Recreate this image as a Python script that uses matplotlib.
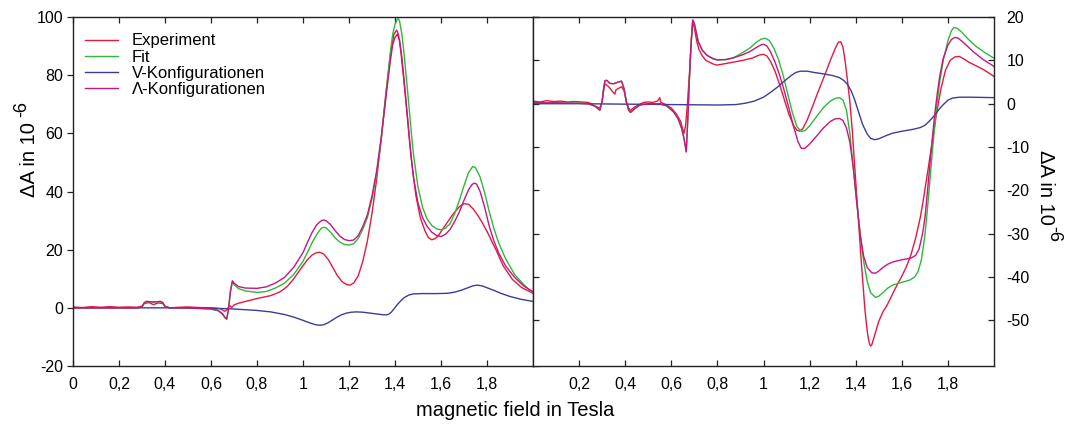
import matplotlib
matplotlib.use("Agg")
import matplotlib.pyplot as plt
from matplotlib.ticker import FixedLocator, FixedFormatter
from matplotlib.lines import Line2D

plt.rcParams['font.family'] = ['Liberation Sans', 'DejaVu Sans']
plt.rcParams['axes.unicode_minus'] = False

# ---------------- data: (magnetic field [T], dA [1e-6]) ----------------
# left panel
exp_left = [(0.0, 0.3), (0.04, 0.1), (0.08, 0.4), (0.12, 0.2), (0.16, 0.4), (0.2, 0.2), (0.24, 0.3),
            (0.28, 0.2), (0.30, 0.6), (0.31, 1.5), (0.33, 1.8), (0.35, 1.1), (0.37, 1.7), (0.39, 1.5),
            (0.40, 0.5), (0.42, 0.0), (0.46, 0.2), (0.5, 0.3), (0.55, 0.1), (0.6, 0.0), (0.64, -0.3),
            (0.66, -1.2), (0.67, -0.6), (0.68, 0.9), (0.69, 0.1), (0.70, 1.0), (0.72, 1.6), (0.75, 2.2),
            (0.80, 3.2), (0.86, 4.2), (0.90, 5.5), (0.93, 7.2), (0.96, 10.0), (0.98, 12.3),
            (1.00, 14.5), (1.02, 16.6), (1.04, 18.2), (1.06, 19.0), (1.074, 19.1), (1.09, 18.5),
            (1.11, 16.6), (1.13, 13.8), (1.15, 11.0), (1.17, 9.0), (1.19, 8.0), (1.204, 7.8),
            (1.22, 8.5), (1.24, 11.0), (1.26, 16.0), (1.28, 23.0), (1.30, 32.5), (1.32, 44.0),
            (1.34, 58.0), (1.36, 73.5), (1.38, 87.0), (1.395, 94.0), (1.407, 95.5), (1.415, 94.0),
            (1.425, 88.5), (1.44, 77.0), (1.455, 65.0), (1.47, 52.0), (1.49, 39.0), (1.51, 31.0),
            (1.53, 26.5), (1.545, 24.2), (1.56, 23.4), (1.575, 23.8), (1.59, 25.0), (1.62, 28.5),
            (1.65, 32.0), (1.68, 34.8), (1.70, 35.8), (1.72, 35.6), (1.74, 34.0), (1.76, 31.8),
            (1.78, 29.2), (1.80, 26.3), (1.82, 23.0), (1.84, 19.8), (1.87, 14.5), (1.91, 9.8),
            (1.95, 7.0), (2.0, 5.0)]

fit_left = [(0.0, 0.0), (0.1, 0.0), (0.2, 0.0), (0.28, 0.0), (0.30, 0.3), (0.31, 1.8), (0.32, 2.2),
            (0.35, 2.0), (0.38, 2.2), (0.39, 1.8), (0.40, 0.5), (0.42, 0.0), (0.5, -0.1), (0.6, -0.5),
            (0.63, -1.0), (0.65, -2.2), (0.66, -3.4), (0.668, -4.0), (0.675, -1.2), (0.685, 5.7),
            (0.693, 9.0), (0.70, 8.0), (0.72, 6.6), (0.75, 5.8), (0.80, 5.3), (0.84, 5.6), (0.88, 6.8),
            (0.92, 8.5), (0.96, 11.5), (1.00, 16.0), (1.02, 19.2), (1.04, 22.5), (1.06, 25.3),
            (1.08, 27.4), (1.09, 27.7), (1.10, 27.5), (1.12, 26.0), (1.14, 24.0), (1.16, 22.6),
            (1.18, 21.8), (1.20, 21.6), (1.22, 22.0), (1.24, 23.8), (1.26, 27.0), (1.28, 31.0),
            (1.30, 37.5), (1.32, 46.0), (1.34, 58.0), (1.36, 73.0), (1.38, 88.0), (1.39, 94.0),
            (1.40, 97.5), (1.41, 99.2), (1.415, 99.4), (1.42, 98.5), (1.43, 94.0), (1.44, 87.0),
            (1.45, 78.5), (1.46, 70.0), (1.47, 61.0), (1.48, 53.0), (1.50, 41.5), (1.52, 34.5),
            (1.54, 30.5), (1.56, 28.3), (1.58, 27.2), (1.60, 26.8), (1.62, 27.4), (1.64, 29.0),
            (1.66, 32.5), (1.68, 37.0), (1.70, 42.0), (1.72, 46.5), (1.738, 48.6), (1.75, 48.2),
            (1.77, 45.0), (1.79, 39.5), (1.81, 33.0), (1.83, 27.3), (1.85, 22.5), (1.88, 17.0),
            (1.92, 11.5), (1.96, 8.0), (2.0, 5.0)]

v_left = [(0.0, 0.0), (0.2, 0.0), (0.4, 0.0), (0.5, 0.0), (0.6, -0.1), (0.7, -0.4), (0.8, -0.9),
          (0.86, -1.4), (0.92, -2.3), (0.96, -3.2), (1.0, -4.3), (1.03, -5.2), (1.055, -5.8),
          (1.074, -6.0), (1.09, -5.8), (1.11, -5.1), (1.13, -4.1), (1.15, -3.1), (1.17, -2.3),
          (1.19, -1.8), (1.21, -1.5), (1.233, -1.4), (1.26, -1.5), (1.29, -1.8), (1.32, -2.1),
          (1.35, -2.4), (1.365, -2.4), (1.375, -2.1), (1.385, -1.4), (1.395, -0.4), (1.41, 1.1),
          (1.425, 2.4), (1.44, 3.5), (1.46, 4.4), (1.48, 4.8), (1.52, 4.9), (1.58, 4.9), (1.63, 5.0),
          (1.66, 5.4), (1.69, 6.1), (1.72, 7.0), (1.74, 7.6), (1.76, 7.8), (1.78, 7.5), (1.80, 6.9),
          (1.83, 6.0), (1.86, 5.0), (1.9, 3.9), (1.95, 2.9), (2.0, 2.2)]

lam_left = [(0.0, 0.0), (0.1, 0.0), (0.2, 0.0), (0.28, 0.0), (0.30, 0.3), (0.31, 1.8), (0.32, 2.2),
            (0.35, 2.0), (0.38, 2.2), (0.39, 1.8), (0.40, 0.5), (0.42, 0.0), (0.5, 0.0), (0.6, -0.3),
            (0.63, -0.8), (0.65, -2.0), (0.66, -3.2), (0.668, -3.8), (0.675, -1.0), (0.685, 6.0),
            (0.693, 9.3), (0.70, 8.5), (0.72, 7.3), (0.75, 6.8), (0.80, 6.7), (0.84, 7.2), (0.88, 8.5),
            (0.92, 10.5), (0.96, 14.0), (1.00, 19.0), (1.02, 22.6), (1.04, 26.0), (1.06, 28.6),
            (1.08, 30.0), (1.09, 30.2), (1.10, 30.0), (1.12, 28.6), (1.14, 26.5), (1.16, 24.7),
            (1.18, 23.5), (1.20, 23.1), (1.22, 23.3), (1.24, 24.8), (1.26, 28.0), (1.28, 32.0),
            (1.30, 38.5), (1.32, 47.0), (1.34, 58.5), (1.36, 72.0), (1.38, 85.0), (1.39, 90.5),
            (1.40, 93.0), (1.41, 94.0), (1.42, 92.0), (1.43, 86.0), (1.44, 78.0), (1.45, 69.0),
            (1.46, 60.0), (1.47, 52.0), (1.48, 45.0), (1.50, 36.0), (1.52, 31.0), (1.54, 28.0),
            (1.56, 26.0), (1.58, 24.9), (1.60, 24.5), (1.62, 25.3), (1.64, 27.0), (1.66, 29.8),
            (1.68, 33.0), (1.70, 37.0), (1.72, 40.6), (1.735, 42.4), (1.745, 42.9), (1.755, 42.5),
            (1.77, 40.0), (1.79, 34.5), (1.81, 28.0), (1.83, 23.0), (1.85, 19.0), (1.88, 14.5),
            (1.92, 10.5), (1.96, 7.5), (2.0, 5.5)]

# right panel
exp_right = [(0.0, 0.6), (0.03, 0.4), (0.06, 0.7), (0.09, 0.5), (0.12, 0.6), (0.15, 0.4), (0.18, 0.5),
             (0.21, 0.4), (0.24, 0.3), (0.26, -0.3), (0.28, -0.8), (0.29, -1.0), (0.30, 0.5),
             (0.305, 2.5), (0.312, 4.6), (0.32, 4.3), (0.33, 3.8), (0.345, 2.8), (0.355, 2.2),
             (0.36, 3.2), (0.37, 3.5), (0.384, 3.9), (0.395, 3.0), (0.405, 0.5), (0.415, -1.0),
             (0.423, -1.5), (0.44, -0.8), (0.46, -0.2), (0.48, 0.3), (0.50, 0.4), (0.52, 0.3),
             (0.54, 0.6), (0.55, 1.4), (0.555, 0.3), (0.58, -0.3), (0.60, -1.0), (0.62, -2.2),
             (0.64, -4.0), (0.655, -6.9), (0.662, -5.0), (0.67, 0.0), (0.68, 8.0), (0.687, 15.0),
             (0.693, 19.0), (0.70, 17.5), (0.71, 14.5), (0.72, 12.5), (0.735, 11.0), (0.75, 10.0),
             (0.78, 9.2), (0.797, 8.9), (0.83, 9.2), (0.87, 9.6), (0.91, 10.0), (0.95, 10.5),
             (0.98, 11.2), (1.00, 11.4), (1.015, 11.0), (1.03, 9.8), (1.05, 7.5), (1.07, 4.4),
             (1.09, 1.0), (1.11, -2.4), (1.13, -5.0), (1.145, -6.1), (1.157, -6.3), (1.17, -5.8),
             (1.19, -3.7), (1.21, -1.0), (1.23, 1.8), (1.25, 4.5), (1.27, 7.2), (1.29, 10.0),
             (1.31, 12.6), (1.325, 14.2), (1.335, 14.3), (1.345, 13.0), (1.355, 9.5), (1.365, 5.0),
             (1.374, 0.8), (1.385, -6.0), (1.395, -14.0), (1.41, -25.4), (1.425, -37.0),
             (1.44, -47.5), (1.45, -52.5), (1.458, -55.0), (1.464, -55.9), (1.47, -55.6),
             (1.48, -53.8), (1.50, -50.2), (1.52, -47.8), (1.533, -46.8), (1.55, -45.0),
             (1.57, -42.8), (1.60, -39.8), (1.62, -37.6), (1.64, -34.8), (1.66, -31.0), (1.68, -26.3),
             (1.693, -22.3), (1.71, -16.5), (1.73, -9.5), (1.75, -2.5), (1.77, 3.5), (1.79, 7.8),
             (1.81, 10.0), (1.83, 10.8), (1.85, 10.9), (1.87, 10.3), (1.89, 9.6), (1.92, 8.8),
             (1.95, 8.0), (1.98, 7.0), (2.0, 6.3)]

fit_right = [(0.0, 0.2), (0.1, 0.2), (0.2, 0.1), (0.24, 0.0), (0.27, -0.6), (0.29, -1.5), (0.30, 0.5),
             (0.305, 3.0), (0.312, 5.3), (0.32, 5.4), (0.333, 4.7), (0.35, 4.6), (0.37, 5.0),
             (0.384, 5.2), (0.395, 3.5), (0.405, 0.4), (0.415, -1.5), (0.423, -2.0), (0.44, -1.2),
             (0.464, -0.3), (0.5, 0.0), (0.55, 0.0), (0.58, -0.5), (0.61, -1.9), (0.63, -3.5),
             (0.645, -5.7), (0.655, -8.0), (0.665, -11.1), (0.672, -3.0), (0.678, 5.0), (0.685, 13.0),
             (0.693, 19.3), (0.70, 18.5), (0.71, 16.0), (0.717, 14.3), (0.735, 12.3), (0.754, 11.2),
             (0.78, 10.4), (0.80, 10.1), (0.84, 10.2), (0.87, 10.6), (0.91, 11.8), (0.94, 12.8),
             (0.97, 14.2), (0.99, 14.9), (1.007, 15.1), (1.025, 14.6), (1.045, 12.8), (1.065, 10.2),
             (1.085, 6.6), (1.105, 2.3), (1.125, -2.0), (1.145, -5.3), (1.164, -6.4), (1.18, -6.2),
             (1.20, -5.1), (1.23, -3.0), (1.26, -0.9), (1.29, 0.6), (1.31, 1.2), (1.33, 1.4),
             (1.345, 0.8), (1.36, -1.5), (1.375, -7.0), (1.39, -15.0), (1.405, -23.0),
             (1.418, -29.2), (1.435, -36.5), (1.45, -41.0), (1.465, -43.6), (1.486, -44.7),
             (1.50, -44.4), (1.52, -43.5), (1.54, -42.5), (1.562, -41.8), (1.60, -41.2),
             (1.634, -40.7), (1.655, -40.0), (1.67, -38.8), (1.685, -36.0), (1.70, -30.5),
             (1.71, -25.0), (1.722, -17.7), (1.735, -9.5), (1.745, -4.0), (1.755, 1.0), (1.765, 5.2),
             (1.78, 10.0), (1.80, 14.5), (1.815, 16.8), (1.826, 17.6), (1.84, 17.4), (1.86, 16.5),
             (1.89, 14.8), (1.92, 13.3), (1.96, 11.8), (2.0, 10.5)]

v_right = [(0.0, 0.0), (0.2, 0.0), (0.4, -0.1), (0.6, -0.2), (0.8, -0.3), (0.88, -0.2), (0.92, 0.1),
           (0.96, 0.6), (1.0, 1.5), (1.03, 2.6), (1.06, 3.8), (1.09, 5.2), (1.12, 6.5), (1.14, 7.2),
           (1.16, 7.5), (1.19, 7.5), (1.22, 7.2), (1.258, 6.9), (1.30, 6.5), (1.33, 6.0), (1.35, 5.3),
           (1.365, 4.4), (1.38, 3.0), (1.395, 1.0), (1.41, -1.5), (1.43, -4.8), (1.45, -7.0),
           (1.465, -8.0), (1.483, -8.3), (1.50, -8.1), (1.53, -7.4), (1.56, -6.8), (1.606, -6.3),
           (1.65, -5.9), (1.68, -5.5), (1.70, -5.0), (1.72, -4.0), (1.74, -2.8), (1.76, -1.4),
           (1.78, -0.2), (1.80, 0.8), (1.82, 1.3), (1.85, 1.5), (1.9, 1.5), (2.0, 1.4)]

lam_right = [(0.0, 0.2), (0.1, 0.2), (0.2, 0.1), (0.24, 0.0), (0.27, -0.6), (0.29, -1.5), (0.30, 0.5),
             (0.305, 3.0), (0.312, 5.3), (0.32, 5.4), (0.333, 4.7), (0.35, 4.6), (0.37, 5.0),
             (0.384, 5.2), (0.395, 3.5), (0.405, 0.4), (0.415, -1.5), (0.423, -2.0), (0.44, -1.2),
             (0.464, -0.3), (0.5, 0.0), (0.55, 0.0), (0.58, -0.5), (0.61, -1.9), (0.63, -3.5),
             (0.645, -5.7), (0.655, -8.0), (0.665, -11.1), (0.672, -3.0), (0.678, 5.0), (0.685, 13.0),
             (0.693, 19.3), (0.70, 18.5), (0.71, 16.0), (0.717, 14.3), (0.735, 12.3), (0.754, 11.2),
             (0.78, 10.4), (0.80, 10.1), (0.84, 10.2), (0.87, 10.6), (0.91, 11.3), (0.94, 12.0),
             (0.97, 13.0), (0.99, 13.6), (1.00, 13.7), (1.015, 13.3), (1.03, 12.0), (1.05, 9.6),
             (1.07, 6.6), (1.09, 3.0), (1.11, -1.0), (1.13, -5.2), (1.15, -8.8), (1.164, -10.3),
             (1.18, -10.3), (1.20, -9.3), (1.23, -7.5), (1.26, -5.6), (1.29, -4.1), (1.31, -3.5),
             (1.33, -3.4), (1.345, -3.9), (1.36, -5.6), (1.375, -9.0), (1.39, -15.0), (1.405, -23.0),
             (1.42, -30.5), (1.435, -35.3), (1.45, -37.8), (1.47, -39.0), (1.486, -39.1),
             (1.50, -38.6), (1.52, -37.7), (1.54, -37.0), (1.562, -36.5), (1.60, -36.0),
             (1.64, -35.6), (1.66, -35.0), (1.675, -33.5), (1.69, -30.0), (1.70, -26.5), (1.71, -21.0),
             (1.722, -13.9), (1.735, -6.5), (1.745, -1.5), (1.755, 2.8), (1.765, 6.5), (1.78, 10.5),
             (1.80, 13.5), (1.815, 14.8), (1.83, 15.3), (1.845, 15.1), (1.87, 14.0), (1.91, 12.0),
             (1.95, 10.3), (2.0, 8.6)]

series_names = ["Experiment", "Fit", "V-Konfigurationen", "\u039b-Konfigurationen"]

x_ticks = [0, 0.2, 0.4, 0.6, 0.8, 1.0, 1.2, 1.4, 1.6, 1.8]
x_tick_labels = ["0", "0,2", "0,4", "0,6", "0,8", "1", "1,2", "1,4", "1,6", "1,8"]
y_ticks_left = [-20, 0, 20, 40, 60, 80, 100]
y_ticks_right = [-50, -40, -30, -20, -10, 0, 10, 20]

# ---------------- styling ----------------
colors = ['#e8173f', '#2fb83a', '#3c3c9a', '#c8157f']
LW = 1.0
TICK_FS = 11.5
LABEL_FS = 14.5
SUP_FS = 13
W, H = 1071, 425

fig = plt.figure(figsize=(W / 100, H / 100), dpi=100)
ax_l = fig.add_axes([73 / W, 59 / H, 460 / W, 349 / H])
ax_r = fig.add_axes([533 / W, 59 / H, 461 / W, 349 / H])


def draw(ax, curves):
    for data, c in zip(curves, colors):
        xs = [p[0] for p in data]
        ys = [p[1] for p in data]
        ax.plot(xs, ys, color=c, lw=LW, solid_joinstyle='round')


draw(ax_l, [exp_left, fit_left, v_left, lam_left])
draw(ax_r, [exp_right, fit_right, v_right, lam_right])

for ax in (ax_l, ax_r):
    ax.set_xlim(0, 2.0)
    for s in ax.spines.values():
        s.set_linewidth(1.0)
        s.set_color('#222222')

# left panel axes
ax_l.set_ylim(-20, 100)
ax_l.xaxis.set_major_locator(FixedLocator(x_ticks))
ax_l.xaxis.set_major_formatter(FixedFormatter(x_tick_labels))
ax_l.yaxis.set_major_locator(FixedLocator(y_ticks_left))
ax_l.tick_params(axis='x', direction='in', top=True, bottom=True, length=4, width=0.9,
                 labelsize=TICK_FS, pad=8, color='#222222')
ax_l.tick_params(axis='y', direction='out', left=True, right=True, length=4, width=0.9,
                 labelsize=TICK_FS, pad=3, color='#222222')

# right panel axes
ax_r.set_ylim(-60.5, 20)
ax_r.xaxis.set_major_locator(FixedLocator(x_ticks[1:]))
ax_r.xaxis.set_major_formatter(FixedFormatter(x_tick_labels[1:]))
ax_r.yaxis.set_major_locator(FixedLocator(y_ticks_right))
ax_r.tick_params(axis='x', direction='in', top=True, bottom=True, length=4, width=0.9,
                 labelsize=TICK_FS, pad=8, color='#222222')
ax_r.tick_params(axis='y', direction='in', left=True, right=True, labelleft=False,
                 labelright=True, length=4, width=0.9, labelsize=TICK_FS, pad=9, color='#222222')

# legend
handles = [Line2D([], [], color=c, lw=LW) for c in colors]
ax_l.legend(handles, series_names, loc='upper left', bbox_to_anchor=(0.026, 0.953),
            frameon=False, fontsize=12, handlelength=2.0, handletextpad=0.8,
            labelspacing=0.07, borderpad=0, borderaxespad=0)

# axis titles
fig.text(515 / W, 1 - 411 / H, "magnetic field in Tesla", ha='center', va='center',
         fontsize=LABEL_FS)

# y titles: body text plus a raised exponent set as its own text
body_left = fig.text(35 / W, 1 - 197 / H, "\u0394A in 10", rotation=90, rotation_mode='anchor',
                     ha='left', va='baseline', fontsize=LABEL_FS)
body_right = fig.text(1040 / W, 1 - 150 / H, "\u0394A in 10", rotation=270,
                      rotation_mode='anchor', ha='left', va='baseline', fontsize=LABEL_FS)
fig.canvas.draw()
renderer = fig.canvas.get_renderer()
bl = body_left.get_window_extent(renderer)
br = body_right.get_window_extent(renderer)
fig.text((35 - 9) / W, (bl.y1 + 5) / H, "-6", rotation=90, rotation_mode='anchor',
         ha='left', va='baseline', fontsize=SUP_FS)
fig.text((1040 + 9) / W, (br.y0 - 1) / H, "-6", rotation=270, rotation_mode='anchor',
         ha='left', va='baseline', fontsize=SUP_FS)

fig.savefig("out.png", dpi=100)
